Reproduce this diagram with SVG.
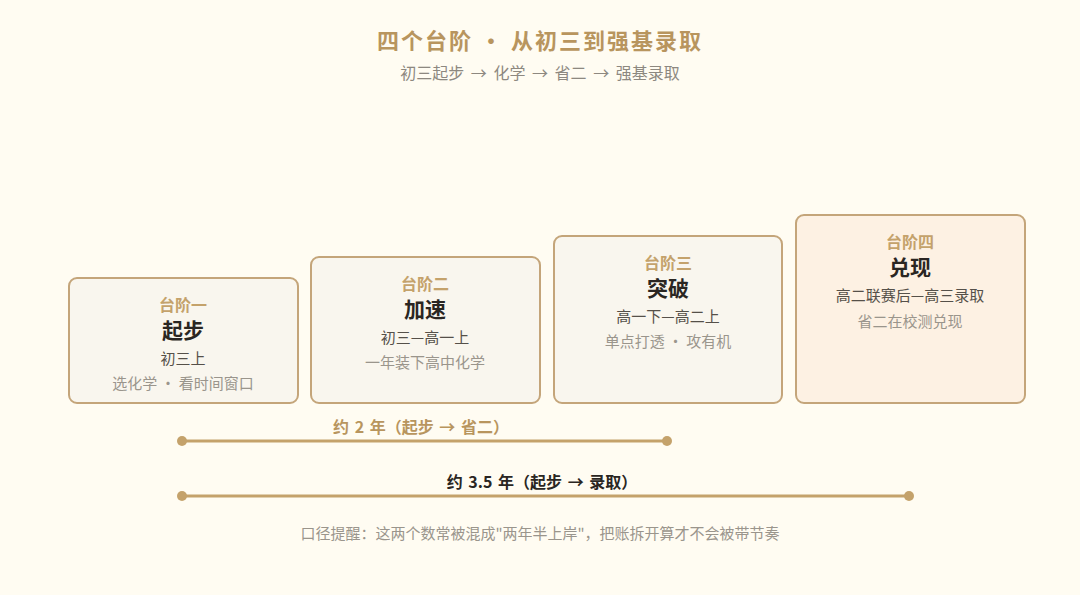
<svg xmlns="http://www.w3.org/2000/svg" width="1080" height="595" viewBox="0 0 1080 595">
<style>
text{font-family:"Noto Sans CJK SC","Noto Sans",sans-serif;text-anchor:middle}
.box{fill:#f9f6ee;stroke:#c4a57a;stroke-width:2}
.box4{fill:#fdf1e3;stroke:#c4a57a;stroke-width:2}
.step{font-size:16px;font-weight:700;fill:#c4a26b}
.name{font-size:21px;font-weight:700;fill:#2a2622}
.when{font-size:15px;fill:#555049}
.note{font-size:15px;fill:#9a958c}
.span{stroke:#c4a26b;stroke-width:3;fill:none}
.dot{fill:#c4a26b}
</style>
<rect width="1080" height="595" fill="#fffcf2"/>
<text x="540" y="49" font-size="22" font-weight="700" fill="#b8955e" letter-spacing="2">四个台阶 · 从初三到强基录取</text>
<text x="540" y="79" font-size="16" fill="#8d8880" word-spacing="3">初三起步 → 化学 → 省二 → 强基录取</text>
<g id="step1">
<rect class="box" x="69" y="278" width="229" height="125" rx="8"/>
<text class="step" x="183" y="311">台阶一</text>
<text class="name" x="183" y="338">起步</text>
<text class="when" x="183" y="364">初三上</text>
<text class="note" x="183" y="389">选化学 · 看时间窗口</text>
</g>
<g id="step2">
<rect class="box" x="311" y="257" width="229" height="146" rx="8"/>
<text class="step" x="425" y="290">台阶二</text>
<text class="name" x="425" y="317">加速</text>
<text class="when" x="425" y="343">初三—高一上</text>
<text class="note" x="425" y="368">一年装下高中化学</text>
</g>
<g id="step3">
<rect class="box" x="554" y="236" width="228" height="167" rx="8"/>
<text class="step" x="668" y="269">台阶三</text>
<text class="name" x="668" y="296">突破</text>
<text class="when" x="668" y="322">高一下—高二上</text>
<text class="note" x="668" y="347">单点打透 · 攻有机</text>
</g>
<g id="step4">
<rect class="box4" x="796" y="215" width="229" height="188" rx="8"/>
<text class="step" x="910" y="248">台阶四</text>
<text class="name" x="910" y="275">兑现</text>
<text class="when" x="910" y="301">高二联赛后—高三录取</text>
<text class="note" x="910" y="327">省二在校测兑现</text>
</g>
<g id="connectors">
<line class="span" x1="182" y1="441" x2="667" y2="441"/>
<circle class="dot" cx="182" cy="441" r="5"/>
<circle class="dot" cx="667" cy="441" r="5"/>
<line class="span" x1="182" y1="496" x2="909" y2="496" stroke="#c4a57a"/>
<circle class="dot" cx="182" cy="496" r="5"/>
<circle class="dot" cx="909" cy="496" r="5"/>
</g>
<text x="421" y="433" font-size="16" font-weight="700" fill="#b8955e" word-spacing="2">约 2 年（起步 → 省二）</text>
<text x="542" y="488" font-size="16" font-weight="700" fill="#2a2622" word-spacing="2">约 3.5 年（起步 → 录取）</text>
<text x="540" y="539" font-size="15" fill="#9a958c">口径提醒：这两个数常被混成"两年半上岸"，把账拆开算才不会被带节奏</text>
</svg>
